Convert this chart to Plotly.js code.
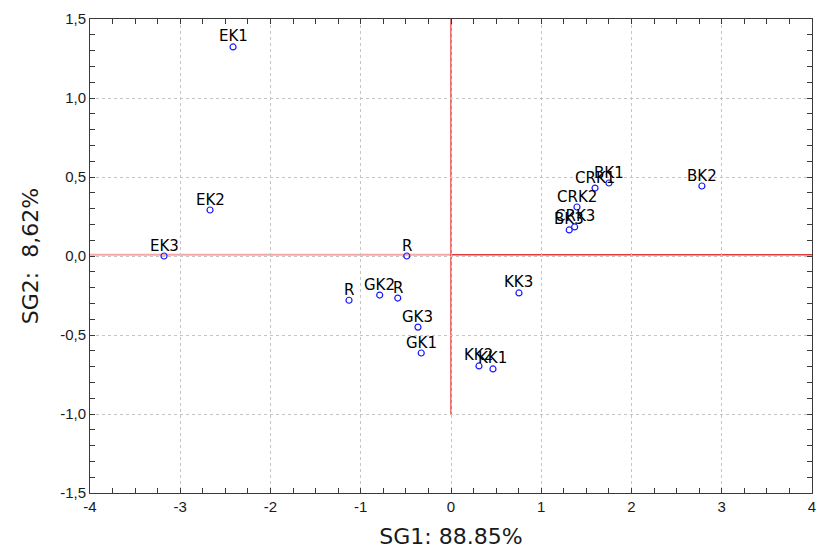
<!DOCTYPE html>
<html>
<head>
<meta charset="utf-8">
<script src="https://cdn.plot.ly/plotly-3.0.1.min.js"></script>
<style>html,body{margin:0;padding:0;background:#fff;}#chart{width:816px;height:550px;}</style>
</head>
<body>
<div id="chart"></div>
<script>
// Sample labels and their scores on the two discriminant axes
const labels = ["EK1","EK2","EK3","R","R","GK2","R","GK3","GK1","KK2","KK1","KK3","CRK1","BK1","CRK2","BK3","CRK3","BK2"];
const sg1 = [-2.415,-2.67,-3.18,-0.49,-1.13,-0.79,-0.59,-0.366,-0.33,0.31,0.465,0.753,1.596,1.75,1.396,1.31,1.37,2.78];
const sg2 = [1.323,0.291,0.0,0.0,-0.28,-0.247,-0.266,-0.45,-0.614,-0.696,-0.715,-0.234,0.43,0.462,0.31,0.165,0.184,0.443];

// Labelled ticks
const xLabelVals = [-4,-3,-2,-1,0,1,2,3,4];
const xLabelText = ["-4","-3","-2","-1","0","1","2","3","4"];
const yLabelVals = [-1.5,-1.0,-0.5,0.0,0.5,1.0,1.5];
const yLabelText = ["-1,5","-1,0","-0,5","0,0","0,5","1,0","1,5"];
const xGridVals = [-3,-2,-1,0,1,2,3];
const yGridVals = [-1.0,-0.5,0.0,0.5,1.0];
const xTickStep = 0.25, yTickStep = 0.1;

function allTicks(lo, hi, step, labVals, labText) {
  const vals = [], text = [];
  const n = Math.round((hi - lo) / step);
  for (let i = 0; i <= n; i++) {
    const v = +(lo + i * step).toFixed(4);
    vals.push(v);
    const k = labVals.findIndex(l => Math.abs(l - v) < 1e-6);
    text.push(k >= 0 ? labText[k] : "");
  }
  return {vals, text};
}
const xt = allTicks(-4, 4, xTickStep, xLabelVals, xLabelText);
const yt = allTicks(-1.5, 1.5, yTickStep, yLabelVals, yLabelText);

const FONT = "DejaVu Sans, Liberation Sans, Arial, sans-serif";
const TFONT = "Liberation Sans, Arial, sans-serif";

const trace = {
  x: sg1, y: sg2,
  type: "scatter", mode: "markers",
  marker: {symbol: "circle-open", size: 6, color: "#1a1aff", line: {width: 1.2, color: "#1a1aff"}},
  hoverinfo: "none", cliponaxis: false,
  xaxis: "x", yaxis: "y"
};
const tickTrace = {x: [], y: [], type: "scatter", mode: "markers", xaxis: "x2", yaxis: "y2", hoverinfo: "none"};

// point labels, placed just above each point
const pointLabels = labels.map((t, i) => ({
  x: sg1[i], y: sg2[i], xref: "x", yref: "y", text: t, showarrow: false,
  xanchor: "center", yanchor: "bottom", yshift: 0.5, borderpad: 0,
  font: {family: FONT, size: 15, color: "#000"}
}));

const gridAxis = {
  showline: false, ticks: "", showticklabels: false, zeroline: false,
  showgrid: true, gridcolor: "#c4c4c4", griddash: "3px,3px", gridwidth: 1
};
const tickAxis = {
  showline: true, linecolor: "#3a3a3a", linewidth: 1, mirror: "ticks",
  ticks: "inside", ticklen: 5, tickcolor: "#3a3a3a", tickwidth: 1,
  showgrid: false, zeroline: false, ticklabeloverflow: "allow",
  tickfont: {family: TFONT, size: 15, color: "#1a1a1a"}
};

const layout = {
  width: 816, height: 550,
  margin: {l: 90, r: 4, t: 19, b: 57},
  paper_bgcolor: "#fff", plot_bgcolor: "#fff",
  showlegend: false,
  xaxis: Object.assign({}, gridAxis, {range: [-4, 4], tickmode: "array", tickvals: xGridVals}),
  yaxis: Object.assign({}, gridAxis, {range: [-1.5, 1.5], tickmode: "array", tickvals: yGridVals}),
  xaxis2: Object.assign({}, tickAxis, {
    overlaying: "x", anchor: "y2", side: "bottom",
    range: [-4, 4], tickmode: "array", tickvals: xt.vals, ticktext: xt.text,
    title: {text: "SG1: 88.85%", font: {family: FONT, size: 22, color: "#1a1a1a"}, standoff: 14}
  }),
  yaxis2: Object.assign({}, tickAxis, {
    overlaying: "y", anchor: "x2", side: "left",
    range: [-1.5, 1.5], tickmode: "array", tickvals: yt.vals, ticktext: yt.text,
    title: {text: "SG2:\u00a0\u00a08,62%", font: {family: FONT, size: 22, color: "#1a1a1a"}, standoff: 15}
  }),
  annotations: pointLabels,
  shapes: [
    {type: "line", xref: "x", yref: "y", x0: -4, x1: 0, y0: 0.008, y1: 0.008, line: {color: "rgba(240,120,120,0.65)", width: 2}, layer: "below"},
    {type: "line", xref: "x", yref: "y", x0: 0, x1: 4, y0: 0.008, y1: 0.008, line: {color: "#e23a3a", width: 1.5}, layer: "below"},
    {type: "line", xref: "x", yref: "y", x0: 0, x1: 0, y0: 1.5, y1: -1.0, line: {color: "#e01515", width: 1.2}, layer: "below"}
  ]
};

Plotly.newPlot("chart", [trace, tickTrace], layout, {displayModeBar: false, staticPlot: true});
</script>
</body>
</html>
